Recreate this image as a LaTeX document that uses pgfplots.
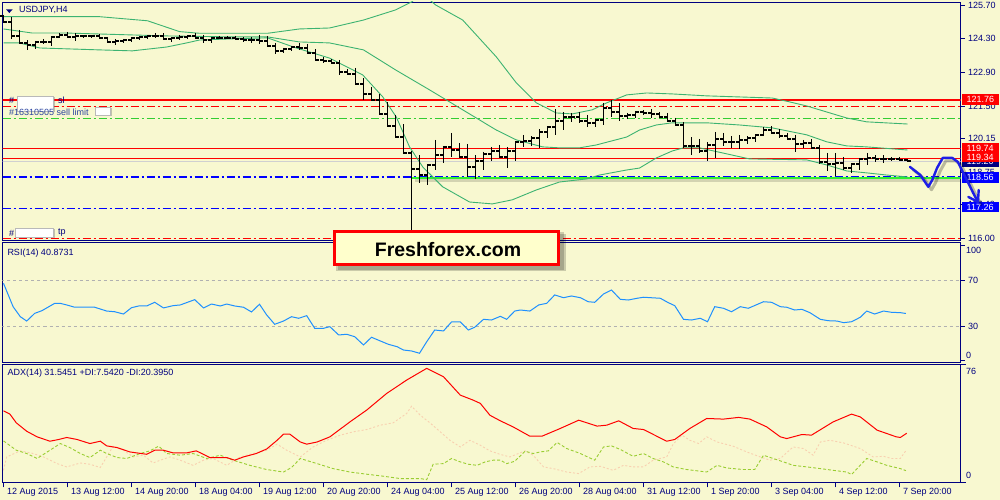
\documentclass[border=0pt]{standalone}
\usepackage{pgfplots}
\pgfplotsset{compat=1.18}
\usepackage{pgfplotstable}
\usepackage{fontspec}
\setmainfont{Liberation Sans}
\definecolor{bg}{HTML}{F8F8D0}
\definecolor{navy}{HTML}{000080}
\definecolor{bbgreen}{HTML}{3CB371}
\definecolor{limeline}{HTML}{30F030}
\definecolor{dgreen}{HTML}{32CD32}
\definecolor{rsiblue}{HTML}{1E90FF}
\definecolor{pdi}{HTML}{9ACD32}
\definecolor{mdi}{HTML}{F8D0B0}
\definecolor{arrowblue}{HTML}{1E1EE6}
\definecolor{boxyellow}{HTML}{FFFFCC}
\definecolor{lblue}{HTML}{2A44A0}
\definecolor{curgray}{HTML}{D0D0D0}
\newcommand\lf{\fontsize{9}{10}\selectfont}
\pgfdeclareplotmark{otick}{\pgfpathmoveto{\pgfqpoint{-3.5pt}{0pt}}\pgfpathlineto{\pgfqpoint{0.5pt}{0pt}}\pgfusepathqstroke}
\pgfdeclareplotmark{ctick}{\pgfpathmoveto{\pgfqpoint{-0.5pt}{0pt}}\pgfpathlineto{\pgfqpoint{3.5pt}{0pt}}\pgfusepathqstroke}
\tikzset{ddot/.style={dash pattern=on 8pt off 3pt on 2pt off 3pt}}
\pgfplotsset{mt/.style={scale only axis, anchor=south west, width=958pt,
  xmin=-0.125, xmax=119.625,
  axis line style={navy, line width=0.9pt},
  tick style={navy, line width=0.8pt}, tick align=outside, major tick length=4pt,
  ytick pos=right, yticklabel pos=right, xtick=\empty,
  tick label style={font=\lf, text=navy},
  /pgf/number format/assume math mode=true}}

\pgfplotstableread{
i o h l c
0 125.25 125.29 125.00 125.00
1 125.00 125.21 124.30 124.42
2 124.42 124.67 124.13 124.13
3 124.13 124.25 123.84 124.05
4 124.05 124.21 123.88 124.17
5 124.17 124.30 124.09 124.17
6 124.17 124.38 124.00 124.38
7 124.38 124.54 124.38 124.46
8 124.46 124.59 124.38 124.38
9 124.38 124.54 124.21 124.42
10 124.42 124.46 124.34 124.42
11 124.42 124.46 124.34 124.42
12 124.42 124.50 124.34 124.34
13 124.34 124.38 124.13 124.17
14 124.17 124.30 124.05 124.21
15 124.21 124.30 124.13 124.25
16 124.25 124.34 124.17 124.34
17 124.34 124.42 124.25 124.38
18 124.38 124.42 124.30 124.42
19 124.42 124.54 124.34 124.42
20 124.42 124.54 124.25 124.30
21 124.30 124.38 124.17 124.34
22 124.34 124.46 124.25 124.38
23 124.38 124.46 124.30 124.42
24 124.42 124.54 124.34 124.34
25 124.34 124.46 124.13 124.25
26 124.25 124.38 124.13 124.34
27 124.34 124.42 124.30 124.34
28 124.34 124.42 124.30 124.34
29 124.34 124.42 124.25 124.30
30 124.30 124.38 124.17 124.25
31 124.25 124.38 124.13 124.25
32 124.25 124.46 124.09 124.21
33 124.21 124.42 124.00 124.00
34 124.00 124.13 123.67 123.80
35 123.80 123.92 123.71 123.88
36 123.88 123.96 123.80 123.96
37 123.96 124.13 123.84 123.92
38 123.92 124.09 123.71 123.71
39 123.71 123.88 123.38 123.42
40 123.42 123.55 123.30 123.38
41 123.38 123.46 123.30 123.30
42 123.30 123.42 122.80 122.92
43 122.92 123.05 122.84 122.84
44 122.84 123.09 122.43 122.43
45 122.43 122.67 121.76 122.01
46 122.01 122.30 121.76 121.76
47 121.76 122.01 121.18 121.18
48 121.18 121.68 120.68 120.68
49 120.68 121.14 120.22 120.22
50 120.22 120.76 119.56 119.56
51 119.56 119.64 116.19 118.89
52 118.89 119.47 118.31 118.64
53 118.64 119.06 118.23 119.06
54 119.06 120.10 118.85 119.47
55 119.47 119.81 119.14 119.81
56 119.81 120.39 119.39 119.68
57 119.68 119.97 119.39 119.39
58 119.39 119.93 118.56 118.98
59 118.98 119.47 118.48 119.23
60 119.23 119.60 118.85 119.52
61 119.52 119.81 119.23 119.64
62 119.64 119.89 119.35 119.39
63 119.39 119.81 118.94 119.64
64 119.64 120.02 119.23 120.02
65 120.02 120.31 119.81 120.06
66 120.06 120.26 119.85 120.18
67 120.18 120.55 119.77 120.43
68 120.43 120.64 120.18 120.64
69 120.64 121.39 120.31 120.89
70 120.89 121.26 120.51 121.05
71 121.05 121.22 120.85 121.05
72 121.05 121.26 120.81 120.89
73 120.89 121.14 120.64 120.81
74 120.81 120.93 120.64 120.93
75 120.93 121.64 120.72 121.43
76 121.43 121.76 121.05 121.26
77 121.26 121.64 120.89 121.10
78 121.10 121.22 120.97 121.14
79 121.14 121.26 121.01 121.26
80 121.26 121.35 121.14 121.22
81 121.22 121.39 121.01 121.18
82 121.18 121.26 121.05 121.05
83 121.05 121.22 120.85 120.89
84 120.89 121.01 120.72 120.72
85 120.72 120.85 119.77 119.85
86 119.85 120.22 119.47 119.85
87 119.85 120.14 119.56 119.64
88 119.64 120.02 119.23 119.89
89 119.89 120.43 119.35 120.14
90 120.14 120.39 119.85 120.02
91 120.02 120.26 119.77 120.02
92 120.02 120.31 119.72 120.10
93 120.10 120.26 119.93 120.18
94 120.18 120.31 120.02 120.31
95 120.31 120.64 120.31 120.51
96 120.51 120.68 120.35 120.39
97 120.39 120.55 120.18 120.26
98 120.26 120.39 120.14 120.14
99 120.14 120.31 119.60 119.93
100 119.93 120.10 119.77 119.97
101 119.97 120.14 119.77 119.77
102 119.77 119.89 119.10 119.18
103 119.18 119.56 118.81 119.10
104 119.10 119.56 118.60 119.14
105 119.14 119.39 118.85 118.94
106 118.94 119.10 118.73 119.10
107 119.10 119.35 118.85 119.31
108 119.31 119.56 119.06 119.35
109 119.35 119.47 119.18 119.31
110 119.31 119.47 119.14 119.31
111 119.31 119.39 119.23 119.31
112 119.31 119.39 119.23 119.27
113 119.27 119.31 119.18 119.23
}\ohlc

\begin{document}
\begin{tikzpicture}[x=1pt,y=1pt]
\useasboundingbox (0,0) rectangle (1000,500);
\fill[bg] (0,0) rectangle (1000,500);

% ---------------- main price panel
\begin{axis}[mt, at={(2.5pt,259.5pt)}, height=238.5pt,
  ymin=115.92, ymax=125.83,
  ytick={116.00,117.40,118.75,120.15,121.50,122.90,124.30,125.70},
  yticklabel style={/pgf/number format/fixed, /pgf/number format/fixed zerofill, /pgf/number format/precision=2}]
% level lines
\addplot[red, line width=1.2pt] coordinates {(-1,121.76) (125,121.76)};
\addplot[red, line width=1.1pt, ddot] coordinates {(-0.125,121.50) (125,121.50)};
\addplot[dgreen, line width=1.1pt, ddot] coordinates {(-0.125,121.00) (125,121.00)};
\addplot[red, line width=1.2pt] coordinates {(-1,119.74) (125,119.74)};
\addplot[red, line width=1.2pt] coordinates {(-1,119.34) (125,119.34)};
\addplot[curgray, line width=1pt] coordinates {(-1,119.20) (125,119.20)};
\addplot[blue, line width=1.1pt, ddot] coordinates {(-0.125,118.56) (125,118.56)};
\addplot[blue, line width=1.1pt, ddot] coordinates {(-0.125,117.26) (125,117.26)};
\addplot[red, line width=1.1pt, ddot] coordinates {(-0.125,116.01) (125,116.01)};
\addplot[black, opacity=0.15, line width=3.5pt] coordinates {(51.4,118.41) (125,118.41)};
\addplot[limeline, line width=2pt] coordinates {(51.06,118.51) (125,118.51)};
% Bollinger bands
\addplot[bbgreen, line width=0.9pt] table {
x y
0 125.22
12 125.22
18 125.05
22 124.60
24.5 124.53
33 124.53
37 124.71
40.75 124.75
45 125.08
49 125.50
51 125.83
52 126.08
53 126.00
54 125.71
57.4 125.08
61.6 123.55
64.1 122.47
66.6 121.64
69.1 121.22
71.1 121.18
73.6 121.35
75.4 121.64
77.9 121.97
80.4 122.05
83.6 122.01
87.9 121.93
96.1 121.84
98.25 121.68
100.4 121.51
102.9 121.26
105.4 121.01
107.9 120.85
113 120.76
};
\addplot[bbgreen, line width=0.9pt] table {
x y
0 124.71
3.6 124.54
7.9 124.54
20.4 124.42
28.6 124.38
33 124.38
37 124.17
40.75 124.13
45 123.84
49 123.01
53.25 122.18
57.4 121.35
61.6 120.51
64.1 120.10
67.4 119.81
69.5 119.77
72 119.77
74.1 119.89
77.9 120.22
79.5 120.51
81.6 120.72
83.6 120.81
87.9 120.81
92 120.72
96.1 120.60
100.4 120.31
102.9 120.02
105.4 119.85
107.9 119.81
113 119.68
};
\addplot[bbgreen, line width=0.9pt] table {
x y
0 124.13
2 124.13
4.5 123.92
12 123.84
16.1 123.80
20.4 123.96
22.9 124.13
24.5 124.25
28.6 124.30
33 124.34
36.6 123.92
40.75 123.50
44.9 122.80
47.4 121.89
49.1 121.05
50.75 119.81
52.4 118.98
54.9 118.15
58.25 117.52
61.1 117.44
63.6 117.61
66.6 118.02
69.5 118.35
72.9 118.48
74.5 118.64
77.9 118.85
79.5 118.93
81.6 119.35
83.6 119.64
85 119.77
87 119.77
93.25 119.31
100.4 119.27
102.9 119.06
105.4 118.81
107.9 118.73
110.4 118.64
113 118.56
};
% OHLC bars
\addplot[draw=none, mark=none, error bars/.cd, y dir=minus, y explicit, error mark=none,
  error bar style={draw=black, line width=1.5pt}]
  table[x=i, y=h, y error expr=\thisrow{h}-\thisrow{l}] {\ohlc};
\addplot[only marks, mark=otick, mark options={black, line width=1.5pt, solid}] table[x=i, y=o] {\ohlc};
\addplot[only marks, mark=ctick, mark options={black, line width=1.5pt, solid}] table[x=i, y=c] {\ohlc};
\end{axis}

% ---------------- RSI panel
\begin{axis}[mt, at={(2.5pt,138pt)}, height=119.5pt,
  ymin=-1.3, ymax=102.6, ytick={0,30,70,100}, yticklabels={,30,70,}]
\addplot[curgray!85!black, line width=0.7pt, dash pattern=on 3pt off 3pt] coordinates {(-1,70) (125,70)};
\addplot[curgray!85!black, line width=0.7pt, dash pattern=on 3pt off 3pt] coordinates {(-1,30) (125,30)};
\addplot[rsiblue, line width=1pt] table {
x y
0 67.1
1.2 46.8
2.1 38.1
2.9 34.3
3.9 41.0
4.8 43.3
6.4 49.7
7.1 49.7
7.9 48.3
8.9 46.3
11.4 46.3
12.9 43.0
13.9 42.4
15.0 40.4
16.0 45.9
16.9 47.4
17.9 47.4
18.9 50.6
20.0 45.7
21.2 47.7
22.1 48.3
23.9 52.9
25.0 45.7
26.0 49.1
27.1 47.4
27.9 49.1
28.9 47.4
30.0 46.3
31.0 42.2
32.0 48.9
32.9 39.6
33.9 31.5
35.0 34.3
36.0 38.1
36.9 36.7
37.9 39.0
38.9 28.0
40.0 28.0
40.8 29.4
41.9 22.2
42.9 22.8
43.9 20.7
45.0 13.5
46.0 20.2
47.1 17.0
48.1 14.1
49.2 12.0
50.0 9.1
51.0 8.3
52.0 6.3
52.9 16.3
53.9 26.5
55.0 25.7
56.0 33.5
57.1 33.5
58.1 26.5
58.9 28.9
60.0 35.8
61.0 35.2
62.1 38.4
62.9 35.8
63.9 43.0
64.6 43.9
65.8 43.0
66.9 48.3
67.9 49.7
68.9 57.0
70.0 54.6
71.0 56.1
72.1 54.6
73.1 51.1
73.9 50.6
75.0 57.8
76.0 61.3
77.1 53.2
78.1 52.6
79.2 54.1
80.0 55.0
82.1 54.1
83.1 50.3
83.9 47.7
85.0 35.8
86.0 35.2
87.1 36.7
88.0 33.7
88.9 46.8
90.0 45.4
91.0 42.4
92.1 46.8
93.1 45.4
95.0 51.1
96.0 50.6
97.1 46.8
97.9 46.3
98.9 43.9
99.8 44.5
100.8 41.6
102.1 35.8
103.1 34.6
104.2 34.3
105.0 32.9
106.0 33.7
107.1 37.6
107.9 43.0
108.9 40.4
110.0 43.0
111.0 41.9
112.1 41.6
112.8 40.9
};
\end{axis}

% ---------------- ADX panel
\begin{axis}[mt, at={(2.5pt,17.7pt)}, height=118.3pt,
  ymin=0, ymax=76, ytick={0,76}, yticklabels={,},
  xtick={0,8,...,112}, xtick pos=left, major tick length=5pt,
  xticklabels={12 Aug 2015,13 Aug 12:00,14 Aug 20:00,18 Aug 04:00,19 Aug 12:00,20 Aug 20:00,24 Aug 04:00,25 Aug 12:00,26 Aug 20:00,28 Aug 04:00,31 Aug 12:00,1 Sep 20:00,3 Sep 04:00,4 Sep 12:00,7 Sep 20:00},
  xticklabel style={anchor=north west, yshift=3pt}]
\addplot[mdi, line width=0.9pt, dash pattern=on 2pt off 2pt] table {
x y
0 7.7
0.4 16.3
2.1 20.2
3.7 18.5
5.0 16.3
6.7 12.0
7.9 9.9
9.6 12.4
10.8 11.6
12.1 9.5
12.9 16.3
13.7 23.2
15.0 20.6
16.2 16.3
17.5 17.4
18.7 12.4
19.6 14.2
20.8 16.3
22.1 14.2
23.7 10.9
25.0 14.2
26.2 15.3
27.9 10.9
29.6 16.3
31.2 18.5
32.9 20.6
34.2 24.5
35.4 20.6
37.1 16.3
38.7 22.7
40.4 27.0
42.1 30.3
43.7 32.4
45.4 33.9
47.1 36.7
48.7 38.2
50.4 44.2
51.0 48.9
52.1 43.1
53.3 38.2
54.6 32.4
55.8 27.0
57.1 22.7
58.3 27.0
59.6 23.8
60.8 20.2
62.1 17.9
63.3 16.3
65.2 20.2
66.2 17.4
67.5 9.9
68.7 8.8
70.4 6.6
71.9 5.6
73.3 9.9
74.6 10.3
76.2 7.7
77.5 10.9
78.7 9.9
80.0 9.9
81.2 14.2
82.9 16.3
83.7 24.5
84.8 30.3
85.8 27.0
86.9 24.9
87.9 29.2
89.2 25.9
91.2 23.2
92.9 19.5
94.6 16.3
95.8 14.2
97.1 15.3
98.7 22.7
100.0 21.7
101.2 17.4
102.1 25.9
103.3 27.0
105.0 25.3
107.1 21.7
108.7 16.3
110.0 16.7
111.0 15.3
112.1 15.3
112.8 20.4
};
\addplot[pdi, line width=0.9pt, dash pattern=on 3pt off 2pt] table {
x y
0 26.6
1.6 20.6
2.9 18.5
4.2 15.3
5.8 20.6
7.1 24.9
8.3 22.3
9.6 18.5
10.8 15.9
12.1 20.6
12.9 18.5
14.2 15.9
15.4 15.3
17.1 18.5
18.3 20.2
19.4 23.2
20.4 18.5
22.1 17.4
23.7 18.5
25.4 15.3
27.1 17.4
28.7 14.2
30.8 10.9
32.9 8.2
35.0 6.6
36.0 9.5
37.1 15.3
38.1 13.7
39.2 12.0
41.2 8.8
43.3 6.6
45.4 5.2
47.5 3.9
49.6 2.4
52.1 2.4
52.9 1.7
53.7 11.6
55.0 12.0
56.0 15.3
57.1 13.1
58.1 11.6
59.2 10.9
60.2 13.1
61.2 14.2
62.1 14.2
62.9 12.0
63.9 13.5
65.2 20.0
66.2 18.5
67.1 19.5
68.1 20.2
69.2 25.6
70.4 21.7
72.1 18.5
73.9 14.2
75.0 22.7
76.0 23.4
77.1 21.1
78.7 16.7
80.0 18.5
81.2 15.3
82.5 13.1
83.7 9.9
85.4 8.2
87.9 6.6
89.2 10.9
90.4 9.2
92.5 8.2
93.9 8.2
95.0 17.4
96.2 15.3
97.5 13.1
98.7 10.9
100.4 9.9
102.1 8.8
103.7 7.7
105.4 6.6
106.0 5.0
107.9 15.3
109.2 13.1
110.4 10.9
112.1 8.8
112.8 7.5
};
\addplot[red, line width=1pt] table {
x y
0 45.9
0.8 43.8
1.6 38.2
2.9 32.8
4.2 29.2
5.8 26.4
6.9 27.5
7.9 28.8
9.2 27.5
10.8 24.9
12.1 26.4
12.9 23.4
14.2 22.3
15.8 19.5
17.9 18.0
18.9 20.6
20.0 20.6
21.2 18.9
22.9 18.9
24.1 20.2
25.8 15.9
27.9 15.9
28.9 14.2
30.0 16.3
31.6 18.5
32.9 21.4
34.2 27.0
35.0 30.9
35.8 30.9
37.1 25.9
37.9 24.5
39.2 25.9
40.8 29.2
43.3 38.8
45.4 46.4
47.9 57.1
50.4 65.7
52.9 73.2
55.0 67.8
57.1 56.0
58.7 52.8
59.6 50.7
60.8 43.1
62.1 39.5
63.7 35.6
65.8 29.6
67.3 29.6
69.6 34.6
71.9 39.9
74.2 36.1
75.4 36.7
76.9 39.5
78.7 34.6
80.0 33.9
82.9 26.4
83.9 27.5
85.8 34.6
87.9 41.0
90.0 40.6
91.9 41.7
93.3 40.6
95.4 35.6
97.1 29.2
97.9 28.1
99.8 30.7
101.0 30.3
103.7 38.8
106.0 43.8
107.1 42.0
109.2 33.5
111.6 29.2
112.1 28.8
112.9 31.5
};
\end{axis}

% ---------------- panel captions and scale labels
\fill[navy] (6,490.7) -- (12.7,490.7) -- (9.35,487) -- cycle;
\node[anchor=west, inner sep=0, font=\lf, text=navy] at (19,489.7) {USDJPY,H4};
\node[anchor=west, inner sep=0, font=\lf, text=navy] at (7.3,247) {RSI(14) 40.8731};
\node[anchor=west, inner sep=0, font=\lf, text=navy] at (7.3,126.7) {ADX(14) 31.5451 +DI:7.5420 -DI:20.3950};
\node[anchor=west, inner sep=0, font=\lf, text=navy] at (966,250) {100};
\node[anchor=west, inner sep=0, font=\lf, text=navy] at (966,144.7) {0};
\node[anchor=west, inner sep=0, font=\lf, text=navy] at (966,128.3) {76};
\node[anchor=west, inner sep=0, font=\lf, text=navy] at (966,24.7) {0};

% order labels in the main panel
\node[anchor=west, inner sep=0, font=\lf, text=navy] at (9,400) {\#};
\fill[gray, opacity=0.45] (18.5,387.5) rectangle (55,402.5);
\filldraw[fill=white, draw=gray!55, line width=0.6pt] (17,389) rectangle (53,404);
\node[anchor=west, inner sep=0, font=\lf, text=navy] at (58,400) {sl};
\node[anchor=west, inner sep=0, font=\lf, text=lblue] at (9,387.5) {\#16310505 sell limit};
\fill[gray, opacity=0.45] (96.5,383.5) rectangle (112,391.5);
\filldraw[fill=white, draw=gray!55, line width=0.6pt] (95,385) rectangle (110,393);
\node[anchor=west, inner sep=0, font=\lf, text=navy] at (9,267) {\#};
\fill[gray, opacity=0.45] (16.5,261.5) rectangle (55,270.5);
\filldraw[fill=white, draw=gray!55, line width=0.6pt] (15,263) rectangle (53,272);
\node[anchor=west, inner sep=0, font=\lf, text=navy] at (58,267) {tp};

% price boxes on the right scale
\fill[navy] (962,332.7) rectangle (999,344);
\node[anchor=west, inner sep=0, font=\lf, text=white] at (966.5,338.3) {119.20};
\fill[red] (962,394.5) rectangle (999,406);
\node[anchor=west, inner sep=0, font=\lf, text=white] at (966.5,400.2) {121.76};
\fill[red] (962,346.7) rectangle (999,357);
\node[anchor=west, inner sep=0, font=\lf, text=white] at (966.5,351.8) {119.74};
\fill[red] (962,337.7) rectangle (999,346.7);
\node[anchor=west, inner sep=0, font=\lf, text=white] at (966.5,342.2) {119.34};
\fill[blue] (962,316.7) rectangle (999,328.3);
\node[anchor=west, inner sep=0, font=\lf, text=white] at (966.5,322.5) {118.56};
\fill[blue] (962,287.7) rectangle (999,297.7);
\node[anchor=west, inner sep=0, font=\lf, text=white] at (966.5,292.7) {117.26};

% Freshforex label
\fill[black, opacity=0.18] (336,228.5) rectangle (566,266);
\fill[black, opacity=0.18] (337.5,230) rectangle (564,267.5);
\filldraw[fill=boxyellow, draw=red, line width=3pt] (334.5,235.5) rectangle (558.5,268.5);
\node[font=\fontsize{19.5}{21}\selectfont\bfseries, text=black] at (448,250.5) {Freshforex.com};

% hand-drawn forecast arrow
\begin{axis}[scale only axis, anchor=south west, at={(2.5pt,259.5pt)}, width=958pt, height=238.5pt,
  xmin=-0.125, xmax=119.625, ymin=115.92, ymax=125.83, hide axis, clip=false]
\addplot[black, opacity=0.25, line width=3pt, line join=round, line cap=round] table {
x y
113.7 118.86
115.0 118.52
116.0 118.03
116.5 118.32
117.1 118.82
117.8 119.23
119.0 119.23
119.7 119.06
120.3 118.65
121.0 118.19
121.6 117.78
122.2 117.40
};
\addplot[arrowblue, line width=2.4pt, line join=round, line cap=round] table {
x y
113.3 118.98
114.6 118.64
115.6 118.15
116.1 118.44
116.7 118.94
117.4 119.35
118.6 119.35
119.3 119.18
119.9 118.77
120.6 118.31
121.2 117.90
121.8 117.52
};
\addplot[arrowblue, line width=2.4pt, line join=round, line cap=round] coordinates {(120.6,117.73) (121.8,117.52) (121.9,118.02)};
\end{axis}
\end{tikzpicture}
\end{document}
